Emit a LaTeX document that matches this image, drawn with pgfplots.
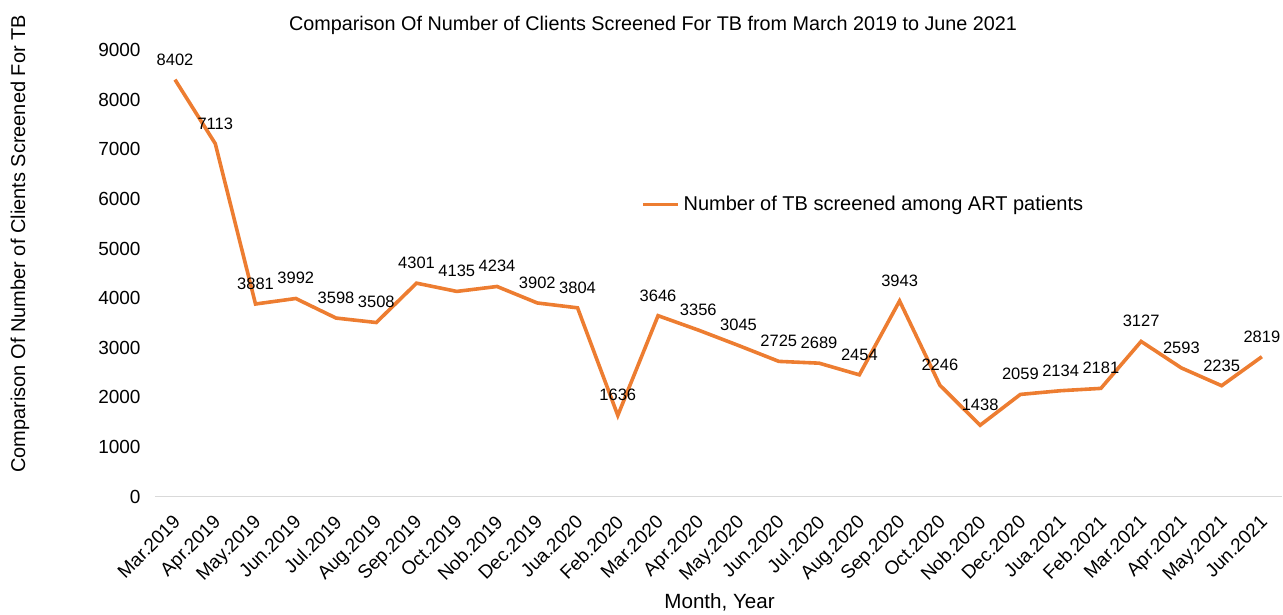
\documentclass[border=0pt]{standalone}
\usepackage{fontspec}
\setmainfont{Liberation Sans}
\usepackage{pgfplots}
\pgfplotsset{compat=1.18}
\definecolor{exorange}{HTML}{ED7D31}
\definecolor{axgray}{HTML}{D9D9D9}
\begin{document}
\begin{tikzpicture}
\useasboundingbox (-77.5pt,-59pt) rectangle (564.5pt,248.5pt);
\begin{axis}[
  at={(0,0)}, anchor=south west,
  scale only axis,
  width=564pt, height=223.5pt,
  xmin=-0.5, xmax=27.5,
  ymin=0, ymax=9000,
  ytick={0,1000,...,9000},
  xtick={0,...,27},
  xticklabels={Mar.2019,Apr.2019,May.2019,Jun.2019,Jul.2019,Aug.2019,Sep.2019,Oct.2019,Nob.2019,Dec.2019,Jua.2020,Feb.2020,Mar.2020,Apr.2020,May.2020,Jun.2020,Jul.2020,Aug.2020,Sep.2020,Oct.2020,Nob.2020,Dec.2020,Jua.2021,Feb.2021,Mar.2021,Apr.2021,May.2021,Jun.2021},
  /pgf/number format/assume math mode=true,
  /pgf/number format/1000 sep={},
  axis x line*=bottom,
  axis y line*=left,
  x axis line style={draw=axgray, line width=0.6pt, -},
  y axis line style={draw=none},
  major tick length=0pt,
  tick style={draw=none},
  ticklabel style={font=\fontsize{9.5}{11}\selectfont},
  xticklabel style={xshift=-1.5pt, yshift=-7pt, rotate=45, anchor=north east, inner sep=1pt},
  yticklabel style={anchor=east, xshift=-6pt, inner sep=1pt},
  clip=false,
  title={Comparison Of Number of Clients Screened For TB from March 2019 to June 2021},
  title style={at={(axis description cs:0.442,1.029)}, anchor=center, font=\fontsize{9.9}{11}\selectfont},
  xlabel={Month, Year},
  xlabel style={at={(axis description cs:0.501,-0.237)}, anchor=center, font=\fontsize{10.3}{12}\selectfont},
  ylabel={Comparison Of Number of Clients Screened For TB},
  ylabel style={at={(axis description cs:-0.1197,0.566)}, anchor=center, font=\fontsize{10}{12}\selectfont},
  legend style={at={(axis description cs:0.431,0.654)}, anchor=west, draw=none, fill=none, font=\fontsize{10}{12}\selectfont, inner sep=0pt},
  legend image code/.code={\draw[#1] (0pt,0pt) -- (17.5pt,0pt);},
  nodes near coords,
  nodes near coords style={font=\fontsize{8.25}{10}\selectfont, text=black, anchor=south, yshift=3pt},
]
\addplot[color=exorange, line width=1.8pt, mark=none] coordinates {
(0,8402) (1,7113) (2,3881) (3,3992) (4,3598) (5,3508) (6,4301) (7,4135) (8,4234) (9,3902)
(10,3804) (11,1636) (12,3646) (13,3356) (14,3045) (15,2725) (16,2689) (17,2454) (18,3943) (19,2246)
(20,1438) (21,2059) (22,2134) (23,2181) (24,3127) (25,2593) (26,2235) (27,2819)
};
\addlegendentry{Number of TB screened among ART patients}
\end{axis}
\end{tikzpicture}
\end{document}
